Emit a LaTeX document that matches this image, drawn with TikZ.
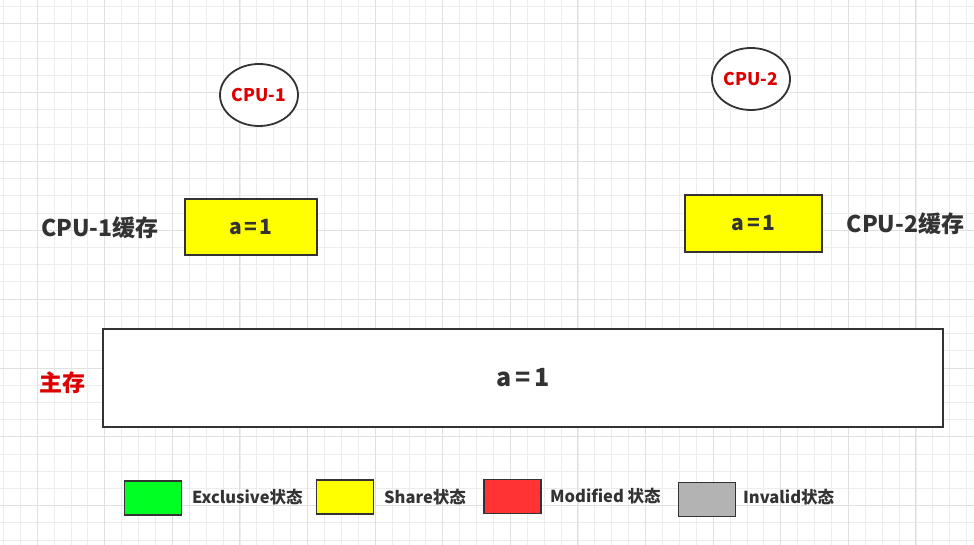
\documentclass[tikz,border=0pt]{standalone}
\usepackage{fontspec}
\setmainfont{Noto Sans CJK SC}
\usepackage{tikz}
\usetikzlibrary{shapes.geometric}

\definecolor{gridminor}{HTML}{EDEDED}
\definecolor{gridmajor}{HTML}{E0E0E0}
\definecolor{edgedark}{HTML}{333333}
\definecolor{textdark}{HTML}{333333}
\definecolor{textred}{HTML}{DD0000}
\definecolor{shareyellow}{HTML}{FFFF00}
\definecolor{exclgreen}{HTML}{00FF22}
\definecolor{modred}{HTML}{FF3333}
\definecolor{invgray}{HTML}{B3B3B3}

\newcommand{\aeqone}[1]{a\kern#1=\kern#1 1}

\tikzset{
  cpu/.style={draw=edgedark, line width=1.8pt, ellipse, fill=white, minimum width=78pt, minimum height=62pt, inner sep=0pt, text=textred, font=\bfseries\fontsize{17.5}{17.5}\selectfont},
  cachebox/.style={draw=edgedark, line width=1.8pt, fill=shareyellow, inner sep=0pt, text=textdark, font=\bfseries\fontsize{21}{21}\selectfont},
  sidelabel/.style={text=textdark, inner sep=0pt, font=\bfseries\fontsize{23}{23}\selectfont},
  swatch/.style={draw=edgedark, line width=1.8pt, minimum width=57pt, minimum height=34pt, inner sep=0pt},
  legendtext/.style={anchor=west, text=textdark, inner sep=0pt, font=\bfseries\fontsize{16.5}{16.5}\selectfont}
}

\begin{document}
\begin{tikzpicture}[x=1pt, y=-1pt]
\useasboundingbox (0,0) rectangle (974,545);
\fill[white] (0,0) rectangle (974,545);

% Background grid
\foreach \gx in {3.3,20.2,...,974}
  \draw[gridminor, line width=0.8pt] (\gx,0) -- (\gx,545);
\foreach \gy in {6.7,23.9,...,545}
  \draw[gridminor, line width=0.8pt] (0,\gy) -- (974,\gy);
\foreach \gx in {36.9,104.5,...,974}
  \draw[gridmajor, line width=0.8pt] (\gx,0) -- (\gx,545);
\foreach \gy in {23.9,92.7,...,545}
  \draw[gridmajor, line width=0.8pt] (0,\gy) -- (974,\gy);

% CPUs
\node[cpu] (cpu1) at (259,95) {CPU-1};
\node[cpu] (cpu2) at (751,79) {CPU-2};

% Caches
\node[cachebox, minimum width=132pt, minimum height=56pt] (cache1) at (251,227) {\aeqone{2.5pt}};
\node[sidelabel] (cache1label) at (100,228) {CPU-1缓存};
\node[cachebox, minimum width=137pt, minimum height=57pt] (cache2) at (753.5,223.5) {\aeqone{2.5pt}};
\node[sidelabel] (cache2label) at (905.5,224) {CPU-2缓存};

% Main memory
\node[draw=edgedark, line width=1.8pt, fill=white, minimum width=840pt, minimum height=98pt, inner sep=0pt, text=textdark, font=\bfseries\fontsize{25}{25}\selectfont] (mem) at (523,378) {\aeqone{3.5pt}};
\node[text=textred, inner sep=0pt, font=\bfseries\fontsize{23}{23}\selectfont] (memlabel) at (62,383) {主存};

% Legend
\node[swatch, fill=exclgreen] (exclbox) at (153,498) {};
\node[legendtext] (excltext) at (192,497) {Exclusive状态};
\node[swatch, fill=shareyellow] (sharebox) at (345,497) {};
\node[legendtext] (sharetext) at (384,497) {Share状态};
\node[swatch, fill=modred] (modbox) at (512.5,496.5) {};
\node[legendtext] (modtext) at (550,496) {Modified 状态};
\node[swatch, fill=invgray] (invbox) at (707,499.5) {};
\node[legendtext] (invtext) at (743,497) {Invalid状态};

\end{tikzpicture}
\end{document}
